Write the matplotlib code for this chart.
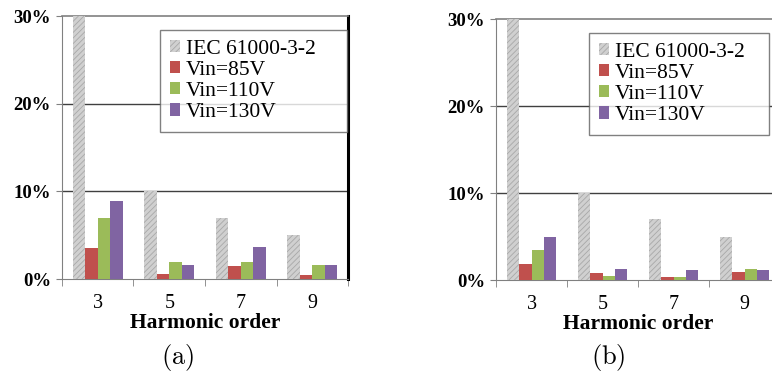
import numpy as np
import matplotlib.pyplot as plt

plt.rcParams['font.family'] = ['Liberation Serif', 'DejaVu Serif']
plt.rcParams['mathtext.fontset'] = 'cm'
plt.rcParams['hatch.color'] = '#8c8c8c'
plt.rcParams['hatch.linewidth'] = 0.6

orders = ['3', '5', '7', '9']
iec = [30, 10, 7, 5]
# panel (a)
a_85 = [3.5, 0.6, 1.5, 0.5]
a_110 = [7.0, 1.9, 1.9, 1.6]
a_130 = [8.9, 1.6, 3.7, 1.6]
# panel (b)
b_85 = [1.85, 0.75, 0.4, 0.95]
b_110 = [3.4, 0.45, 0.3, 1.25]
b_130 = [4.9, 1.3, 1.1, 1.2]

labels = ['IEC 61000-3-2', 'Vin=85V', 'Vin=110V', 'Vin=130V']
colors = ['#d0d0d0', '#c0504d', '#9bbb59', '#8064a2']


def panel(ax, series, legend_box, right_black):
    x = np.arange(len(orders))
    w = 0.175
    for k, (vals, c) in enumerate(zip(series, colors)):
        pos = x - 1.5 * w + k * w
        if k == 0:
            ax.bar(pos, vals, w, color=c, hatch='//////', edgecolor='#a8a8a8',
                   linewidth=0, label=labels[k], zorder=3)
        else:
            ax.bar(pos, vals, w, color=c, linewidth=0, label=labels[k], zorder=3)
    ax.set_xlim(-0.5, 3.5)
    ax.set_ylim(0, 30)
    ax.set_yticks([0, 10, 20, 30])
    ax.set_yticklabels(['0%', '10%', '20%', '30%'], fontweight='bold', fontsize=13.5)
    ax.set_xticks(x)
    ax.set_xticklabels(orders, fontsize=14.5)
    ax.set_xticks(np.arange(-0.5, 4, 1), minor=True)
    ax.tick_params(axis='x', which='major', length=0, pad=11)
    ax.tick_params(axis='x', which='minor', length=5, color='#808080')
    ax.tick_params(axis='y', length=4, color='#808080', pad=4)
    for yv in [10, 20]:
        ax.axhline(yv, color='#404040', lw=1.0, zorder=1)
    for s in ['left', 'bottom', 'top']:
        ax.spines[s].set_color('#808080')
    ax.spines['top'].set_linewidth(1.2)
    if right_black:
        ax.spines['right'].set_color('black')
        ax.spines['right'].set_linewidth(2.2)
    else:
        ax.spines['right'].set_color('#808080')
    ax.set_xlabel('Harmonic order', fontweight='bold', fontsize=15.5, labelpad=0)
    leg = ax.legend(loc='upper left', bbox_to_anchor=legend_box, mode='expand',
                    bbox_transform=ax.figure.transFigure, fontsize=15.5,
                    frameon=True, fancybox=False, handlelength=0.5, handleheight=0.5,
                    handletextpad=0.25, labelspacing=0.1, borderpad=0.45,
                    borderaxespad=0)
    leg.get_frame().set_edgecolor('#606060')
    leg.get_frame().set_linewidth(1.0)


fig = plt.figure(figsize=(7.72, 3.82), dpi=100)
ax1 = fig.add_axes([0.0803, 0.2696, 0.3705, 0.6884])
ax2 = fig.add_axes([0.6425, 0.267, 0.3679, 0.683])

panel(ax1, [iec, a_85, a_110, a_130], (0.2073, 0.6649, 187 / 772, 0.2566), True)
panel(ax2, [iec, b_85, b_110, b_130], (0.763, 0.6544, 180 / 772, 0.2592), False)

fig.text(0.2305, 0.063, r'$\mathrm{(a)}$', ha='center', va='center', fontsize=19)
fig.text(0.7875, 0.063, r'$\mathrm{(b)}$', ha='center', va='center', fontsize=19)

fig.savefig('out.png', dpi=100)
